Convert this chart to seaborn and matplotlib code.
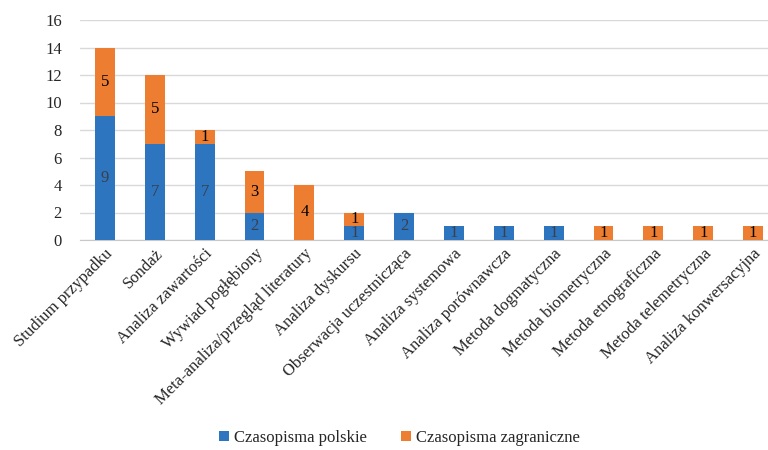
import matplotlib
matplotlib.use("Agg")
import matplotlib.pyplot as plt
import seaborn as sns
import pandas as pd
import numpy as np
from matplotlib.patches import Patch

categories = ["Studium przypadku", "Sondaż", "Analiza zawartości", "Wywiad pogłębiony",
              "Meta-analiza/przegląd literatury", "Analiza dyskursu", "Obserwacja uczestnicząca",
              "Analiza systemowa", "Analiza porównawcza", "Metoda dogmatyczna",
              "Metoda biometryczna", "Metoda etnograficzna", "Metoda telemetryczna",
              "Analiza konwersacyjna"]
polskie = [9, 7, 7, 2, 0, 1, 2, 1, 1, 1, 0, 0, 0, 0]
zagraniczne = [5, 5, 1, 3, 4, 1, 0, 0, 0, 0, 1, 1, 1, 1]
series_names = ["Czasopisma polskie", "Czasopisma zagraniczne"]
yticks = [0, 2, 4, 6, 8, 10, 12, 14, 16]

BLUE = "#2E75C0"
ORANGE = "#ED7D31"

sns.set_style("white")
plt.rcParams["font.family"] = ["Liberation Serif", "DejaVu Serif"]

df = pd.DataFrame({"cat": categories, "pl": polskie, "zg": zagraniczne})
df["total"] = df["pl"] + df["zg"]

FS = 12

fig = plt.figure(figsize=(7.68, 4.5), dpi=100)
ax = fig.add_axes([80/768, 1 - 240/450, 688/768, 220/450])

sns.barplot(data=df, x="cat", y="total", color=ORANGE, width=0.4, ax=ax,
            saturation=1, linewidth=0, edgecolor="none", zorder=3)
sns.barplot(data=df, x="cat", y="pl", color=BLUE, width=0.4, ax=ax,
            saturation=1, linewidth=0, edgecolor="none", zorder=3)

for i, (p, z) in enumerate(zip(polskie, zagraniczne)):
    if p > 0:
        ax.text(i, p / 2, str(p), ha="center", va="center", fontsize=FS,
                color="#3a3f4a", zorder=4)
    if z > 0:
        ax.text(i, p + z / 2, str(z), ha="center", va="center", fontsize=FS,
                color="black", zorder=4)

ax.set_ylim(0, 16)
ax.set_yticks(yticks)
ax.set_xlim(-0.5, 13.3)
ax.yaxis.grid(True, color="#D9D9D9", linewidth=1, zorder=0)
ax.set_axisbelow(True)
for s in ["top", "right", "left"]:
    ax.spines[s].set_visible(False)
ax.spines["bottom"].set_color("#C8C8C8")
ax.set_xlabel("")
ax.set_ylabel("")
ax.tick_params(axis="y", labelsize=FS, length=0, pad=13)
ax.tick_params(axis="x", labelsize=FS, length=0, pad=4)
ax.set_xticks(range(len(categories)))
ax.set_xticklabels(categories, rotation=45, ha="right", rotation_mode="anchor")

handles = [Patch(facecolor=BLUE, edgecolor="none"), Patch(facecolor=ORANGE, edgecolor="none")]
fig.legend(handles, series_names, loc="center", bbox_to_anchor=(0.52, 1 - 438/450),
           ncol=2, frameon=False, fontsize=FS, handlelength=0.6, handleheight=0.6,
           handletextpad=0.3, columnspacing=2.0)

fig.savefig("out.png", dpi=100)
